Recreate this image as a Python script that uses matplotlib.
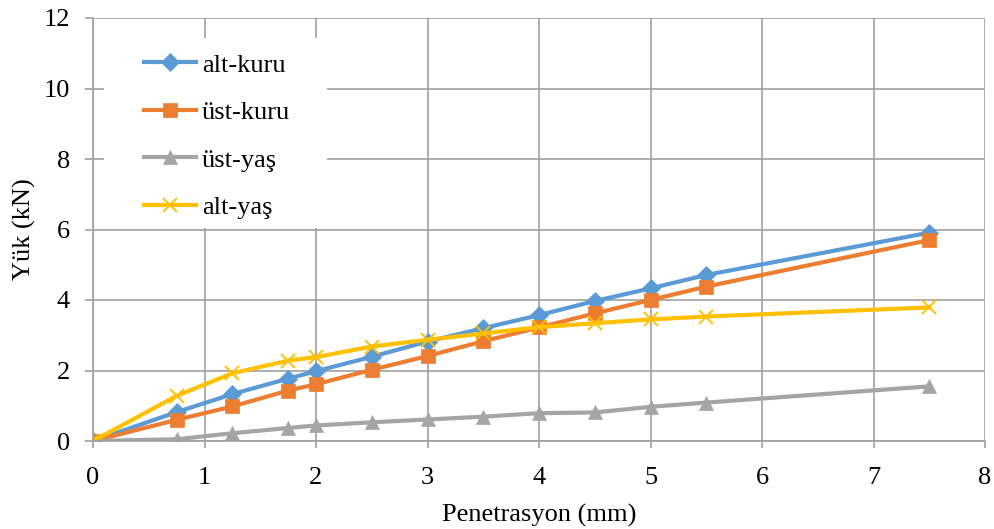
import matplotlib
matplotlib.use("Agg")
import matplotlib.pyplot as plt
from matplotlib.patches import Rectangle

plt.rcParams["font.family"] = ["Liberation Serif", "DejaVu Serif"]

penetrasyon = [0, 0.75, 1.25, 1.75, 2, 2.5, 3, 3.5, 4, 4.5, 5, 5.5, 7.5]
alt_kuru = [0, 0.82, 1.33, 1.77, 1.98, 2.39, 2.82, 3.2, 3.57, 3.97, 4.33, 4.71, 5.91]
ust_kuru = [0, 0.6, 0.98, 1.43, 1.61, 2.02, 2.41, 2.83, 3.22, 3.62, 4.0, 4.38, 5.7]
ust_yas = [0, 0.05, 0.22, 0.37, 0.44, 0.53, 0.61, 0.69, 0.79, 0.81, 0.97, 1.09, 1.55]
alt_yas = [0, 1.28, 1.92, 2.28, 2.38, 2.68, 2.87, 3.05, 3.23, 3.34, 3.45, 3.53, 3.79]

series = [
    ("alt-kuru", alt_kuru, "#5B9BD5", "D", 9.5),
    ("üst-kuru", ust_kuru, "#ED7D31", "s", 10.5),
    ("üst-yaş", ust_yas, "#A5A5A5", "^", 10.5),
    ("alt-yaş", alt_yas, "#FFC000", "x", 10),
]

fig = plt.figure(figsize=(9.95, 5.29), dpi=100)
ax = fig.add_axes([93 / 995, 1 - 441 / 529, (985 - 93) / 995, (441 - 18) / 529])

for label, values, color, marker, size in series:
    ax.plot(penetrasyon, values, color=color, lw=3, marker=marker, markersize=size,
            markeredgewidth=1.4 if marker == "x" else 0.5, markeredgecolor=color, label=label)

ax.set_xlim(0, 8)
ax.set_ylim(0, 12)
ax.set_xticks(range(0, 9))
ax.set_yticks(range(0, 13, 2))
ax.grid(True, color="#A0A0A0", lw=1.2)
ax.set_axisbelow(True)
for side in ["top", "right"]:
    ax.spines[side].set_visible(False)
for side in ["left", "bottom"]:
    ax.spines[side].set_color("#A0A0A0")
    ax.spines[side].set_linewidth(1.2)
ax.tick_params(axis="both", labelsize=19, color="#A0A0A0", width=1.2)
ax.tick_params(axis="y", length=5.8, pad=10.8)
ax.tick_params(axis="x", length=5.2, pad=13.2)
ax.set_xlabel("Penetrasyon (mm)", fontsize=19, labelpad=11)
ax.set_ylabel("Yük (kN)", fontsize=19, labelpad=5)

# white legend background that hides the grid, like the original
ax.add_patch(Rectangle((0.0123, 0.5035), 0.25, 0.449, transform=ax.transAxes,
                       facecolor="white", edgecolor="none", zorder=1.5))
ax.legend(loc="upper left", bbox_to_anchor=(0.045, 0.942), frameon=False, fontsize=19,
          handlelength=2.0, labelspacing=0.91, handletextpad=0.2, borderaxespad=0)

fig.savefig("out.png", dpi=100)
